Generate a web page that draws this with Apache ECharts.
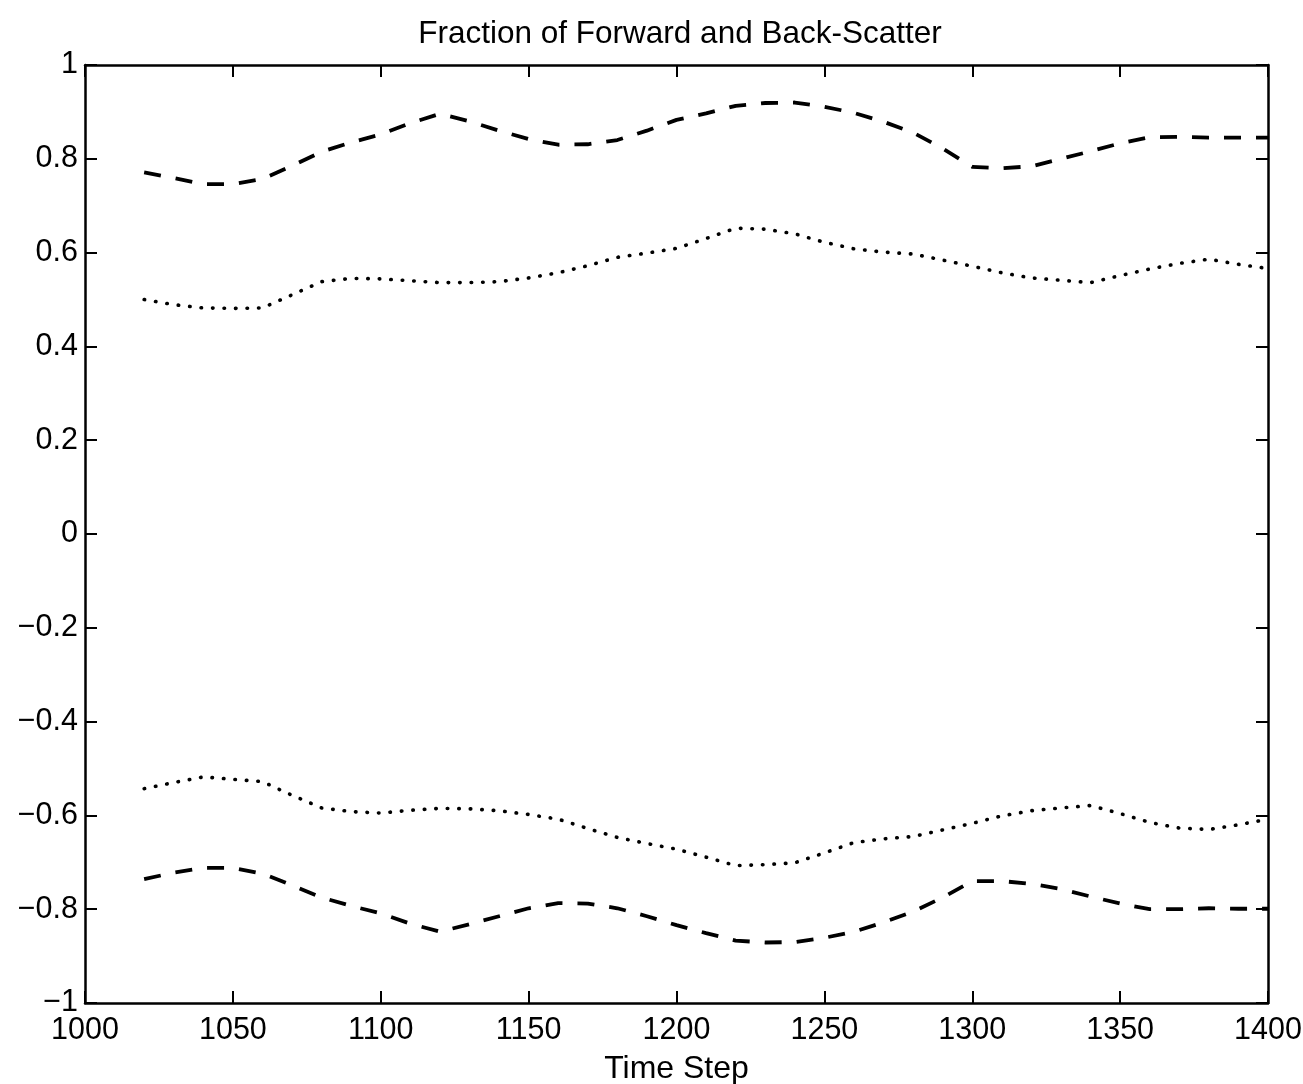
<!DOCTYPE html>
<html>
<head>
<meta charset="utf-8">
<script src="https://cdn.jsdelivr.net/npm/echarts@6/dist/echarts.min.js"></script>
<style>
html,body{margin:0;padding:0;background:#fff;}
#chart{width:1303px;height:1084px;}
</style>
</head>
<body>
<div id="chart"></div>
<script>
var titleText = 'Fraction of Forward and Back-Scatter';
var xName = 'Time Step';
var timeSteps = [1020,1030,1040,1050,1060,1070,1080,1090,1100,1110,1120,1130,1140,1150,1160,1170,1180,1190,1200,1210,1220,1230,1240,1250,1260,1270,1280,1290,1300,1310,1320,1330,1340,1350,1360,1370,1380,1390,1400];
var forwardDashed = [0.771,0.759,0.746,0.746,0.757,0.785,0.815,0.835,0.852,0.876,0.896,0.880,0.860,0.842,0.830,0.831,0.840,0.860,0.883,0.897,0.913,0.919,0.920,0.911,0.898,0.879,0.856,0.822,0.783,0.780,0.784,0.800,0.816,0.833,0.846,0.847,0.845,0.845,0.845];
var forwardDotted = [0.500,0.489,0.482,0.481,0.482,0.510,0.538,0.545,0.544,0.540,0.536,0.536,0.538,0.546,0.557,0.572,0.590,0.599,0.609,0.630,0.652,0.650,0.640,0.622,0.608,0.601,0.597,0.584,0.571,0.557,0.546,0.541,0.536,0.551,0.565,0.577,0.586,0.575,0.566];
var backDotted = [-0.543,-0.530,-0.518,-0.523,-0.528,-0.557,-0.584,-0.592,-0.595,-0.589,-0.585,-0.586,-0.590,-0.598,-0.608,-0.628,-0.647,-0.660,-0.672,-0.689,-0.707,-0.705,-0.701,-0.680,-0.658,-0.650,-0.645,-0.631,-0.617,-0.601,-0.590,-0.584,-0.579,-0.596,-0.615,-0.627,-0.630,-0.620,-0.608];
var backDashed = [-0.736,-0.722,-0.712,-0.712,-0.724,-0.749,-0.775,-0.793,-0.809,-0.831,-0.848,-0.832,-0.815,-0.798,-0.787,-0.788,-0.798,-0.815,-0.834,-0.851,-0.867,-0.871,-0.870,-0.861,-0.848,-0.828,-0.805,-0.775,-0.740,-0.740,-0.746,-0.757,-0.773,-0.788,-0.800,-0.800,-0.798,-0.799,-0.799];
var yTickValues = [-1,-0.8,-0.6,-0.4,-0.2,0,0.2,0.4,0.6,0.8,1];
var yTickLabels = ['\u22121','\u22120.8','\u22120.6','\u22120.4','\u22120.2','0','0.2','0.4','0.6','0.8','1'];
var xTickLabels = ['1000','1050','1100','1150','1200','1250','1300','1350','1400'];

function pairs(vals){ return timeSteps.map(function(t,i){ return [t, vals[i]]; }); }
function yLabel(v){
  for (var i=0;i<yTickValues.length;i++){ if (Math.abs(yTickValues[i]-v)<1e-6) return yTickLabels[i]; }
  return '';
}
function xLabel(v){
  var s = String(Math.round(v));
  return xTickLabels.indexOf(s) >= 0 ? s : '';
}

var FONT = 'Liberation Sans, Arial, Helvetica, sans-serif';
var axisLine = {show:true, onZero:false, lineStyle:{color:'#000', width:2.5}};
var tickIn = {show:true, inside:true, length:12, lineStyle:{color:'#000', width:2}};

var chart = echarts.init(document.getElementById('chart'), null, {renderer:'canvas'});
var dashStyle = {color:'#000', width:3.8, type:[17,15]};
var dotStyle = {color:'#000', width:3.6, type:[0.5,11], cap:'round'};
function mk(vals, style){
  return {type:'line', data:pairs(vals), showSymbol:false, symbol:'none', lineStyle:style, animation:false, xAxisIndex:0, yAxisIndex:0};
}
chart.setOption({
  backgroundColor:'#fff',
  animation:false,
  title:{text:titleText, left:675, top:13, textAlign:'center',
    textStyle:{fontFamily:FONT, fontSize:31.5, fontWeight:'normal', color:'#000'}},
  grid:{left:85, right:35, top:65, bottom:81, containLabel:false, outerBoundsMode:'none'},
  xAxis:[
    {type:'value', min:1000, max:1400, interval:50, position:'bottom',
     name:xName, nameLocation:'middle', nameGap:50,
     nameTextStyle:{fontFamily:FONT, fontSize:32, color:'#000'},
     axisLine:axisLine, axisTick:tickIn, splitLine:{show:false},
     axisLabel:{fontFamily:FONT, fontSize:30.5, color:'#000', margin:12, formatter:xLabel}},
    {type:'value', min:1000, max:1400, interval:50, position:'top',
     axisLine:axisLine, axisTick:tickIn, splitLine:{show:false}, axisLabel:{show:false}}
  ],
  yAxis:[
    {type:'value', min:-1, max:1, interval:0.2, position:'left',
     axisLine:axisLine, axisTick:tickIn, splitLine:{show:false},
     axisLabel:{fontFamily:FONT, fontSize:30.5, color:'#000', margin:7, formatter:yLabel}},
    {type:'value', min:-1, max:1, interval:0.2, position:'right',
     axisLine:axisLine, axisTick:tickIn, splitLine:{show:false}, axisLabel:{show:false}}
  ],
  series:[
    mk(forwardDashed, dashStyle),
    mk(forwardDotted, dotStyle),
    mk(backDotted, dotStyle),
    mk(backDashed, dashStyle)
  ]
});
</script>
</body>
</html>
